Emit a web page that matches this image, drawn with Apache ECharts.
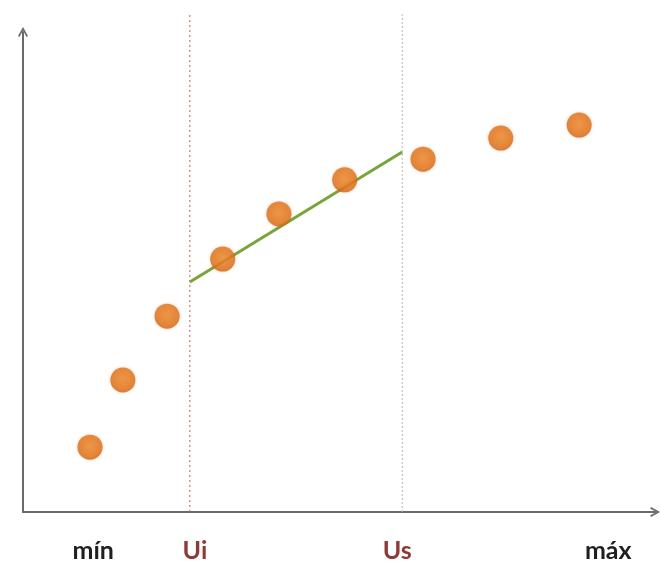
<!DOCTYPE html>
<html>
<head>
<meta charset="utf-8">
<script src="https://cdn.jsdelivr.net/npm/echarts@6/dist/echarts.min.js"></script>
<style>
  html, body { margin: 0; padding: 0; background: #fff; }
  #chart { width: 660px; height: 565px; }
</style>
</head>
<body>
<div id="chart"></div>
<script>
// Sampled points (x, y) on a 0–100 scale for both axes
const pointX = [10.6, 15.8, 22.8, 31.6, 40.5, 50.9, 63.3, 75.6, 88.0];
const pointY = [13.5, 27.5, 40.8, 52.7, 62.1, 69.2, 73.5, 77.9, 80.6];

// Lower and upper limits of the linear range
const limitUi = 26.4;
const limitUs = 60.0;

// Fitted straight segment between the two limits
const fitX = [26.4, 60.0];
const fitY = [47.9, 75.0];

// Labels placed under the horizontal axis
const tickValues = [11.1, 27.2, 59.2, 92.6];
const tickNames = ['mín', 'Ui', 'Us', 'máx'];
const tickColors = ['#1f1f1f', '#8e3b38', '#8e3b38', '#1f1f1f'];

const scatterData = pointX.map((x, i) => [x, pointY[i]]);
const fitData = fitX.map((x, i) => [x, fitY[i]]);

const axisColor = '#6a6a6a';
const chevron = 'path://M0,9 L5,0 L10,9 L8.6,10 L5,3.6 L1.4,10 Z';
const labelFont = 'Lato, "Open Sans", sans-serif';

const richStyles = {};
tickColors.forEach((c, i) => {
  richStyles['t' + i] = { color: c, fontSize: 25, fontWeight: 'bold', fontFamily: labelFont };
});

const chart = echarts.init(document.getElementById('chart'), null, { renderer: 'canvas' });

chart.setOption({
  backgroundColor: '#ffffff',
  animation: false,
  grid: [
    { left: 23, right: 5, top: 32, bottom: 53 },
    { left: 23, right: 5, top: 13, bottom: 53 }
  ],
  xAxis: [
    {
      type: 'value', gridIndex: 0, min: 0, max: 100,
      splitLine: { show: false },
      axisTick: { show: false },
      axisLine: {
        show: true, onZero: false,
        symbol: ['none', chevron], symbolSize: [10, 10],
        lineStyle: { color: axisColor, width: 2 }
      },
      axisLabel: {
        show: true,
        customValues: tickValues,
        margin: 26,
        fontFamily: labelFont,
        fontSize: 25,
        formatter: function (v) {
          const i = tickValues.indexOf(v);
          return i >= 0 ? '{t' + i + '|' + tickNames[i] + '}' : '';
        },
        rich: richStyles
      }
    },
    {
      type: 'value', gridIndex: 1, min: 0, max: 100, show: false
    }
  ],
  yAxis: [
    {
      type: 'value', gridIndex: 0, min: 0, max: 100,
      splitLine: { show: false },
      axisTick: { show: false },
      axisLabel: { show: false },
      axisLine: {
        show: true, onZero: false,
        symbol: ['none', chevron], symbolSize: [10, 10],
        lineStyle: { color: axisColor, width: 2 }
      }
    },
    {
      type: 'value', gridIndex: 1, min: 0, max: 1, show: false
    }
  ],
  series: [
    {
      name: 'Ui',
      type: 'line', xAxisIndex: 1, yAxisIndex: 1,
      data: [[limitUi, 0], [limitUi, 1]],
      symbol: 'none', silent: true, z: 1,
      lineStyle: { color: '#c25a56', width: 1, type: [2, 3] }
    },
    {
      name: 'Us',
      type: 'line', xAxisIndex: 1, yAxisIndex: 1,
      data: [[limitUs, 0], [limitUs, 1]],
      symbol: 'none', silent: true, z: 1,
      lineStyle: { color: '#b8b8b8', width: 1, type: [2, 2] }
    },
    {
      name: 'ajuste',
      type: 'line', xAxisIndex: 0, yAxisIndex: 0,
      data: fitData,
      symbol: 'none', z: 2,
      lineStyle: { color: '#78a53a', width: 3 }
    },
    {
      name: 'puntos',
      type: 'scatter', xAxisIndex: 0, yAxisIndex: 0,
      data: scatterData,
      symbol: 'circle', symbolSize: 25, z: 3,
      itemStyle: {
        color: {
          type: 'radial', x: 0.5, y: 0.45, r: 0.6,
          colorStops: [
            { offset: 0, color: '#ee8a2e' },
            { offset: 0.7, color: '#e2741c' },
            { offset: 1, color: '#c4601a' }
          ]
        },
        shadowBlur: 3,
        shadowColor: 'rgba(200,100,30,0.45)'
      }
    }
  ]
});
</script>
</body>
</html>
